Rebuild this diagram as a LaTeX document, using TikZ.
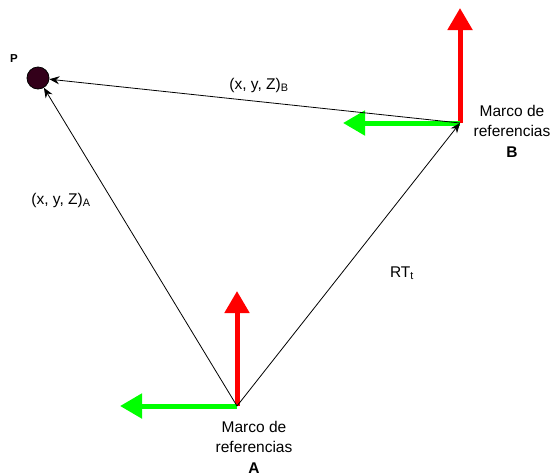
\documentclass[tikz,border=0pt]{standalone}
\usepackage{fontspec}
\setsansfont{Liberation Sans}
\usetikzlibrary{arrows.meta, calc}
\begin{document}
\begin{tikzpicture}[x=1pt, y=-1pt, line join=miter,
  font=\sffamily\fontsize{15.5}{20.5}\selectfont,
  axisarrow/.style={line width=5pt, -{Triangle[length=22pt,width=24pt]}},
  vecarrow/.style={line width=0.8pt, -{Stealth[length=10pt,width=8pt]}},
  framelabel/.style={align=center, inner sep=0pt},
  pointmark/.style={circle, draw=black, line width=0.8pt, fill=pfill, minimum size=22pt, inner sep=0pt}]
\definecolor{axred}{HTML}{FF0000}
\definecolor{axgreen}{HTML}{00FF00}
\definecolor{pfill}{HTML}{33001A}
\useasboundingbox (0,0) rectangle (553,475);
% ---- point P and the two frame origins ----
\node[pointmark] (P) at (38,78) {};
\node[font=\sffamily\bfseries\fontsize{11.5}{13}\selectfont, inner sep=0pt] (labP) at (14,59) {P};
\coordinate (A) at (237,406);
\coordinate (B) at (460,123);
% ---- frame axes (red = up, green = left) ----
\foreach \o in {A, B} {
  \coordinate (\o up) at ($(\o)+(0,-115)$);
  \coordinate (\o left) at ($(\o)+(-117,0)$);
  \draw[axisarrow, axred] (\o) -- (\o up);
  \draw[axisarrow, axgreen] (\o) -- (\o left);
}
% ---- position vectors ----
\draw[vecarrow] (A) -- (P);
\draw[vecarrow] (B) -- (P);
\draw[vecarrow] (A) -- (B);
% ---- labels ----
\node (labB) at (259,85) {(x, y, Z)\textsubscript{B}};
\node (labA) at (61,200) {(x, y, Z)\textsubscript{A}};
\node (labRT) at (402,273) {RT\textsubscript{t}};
\node[framelabel] (frameB) at (512,131) {Marco de\\referencias\\\textbf{B}};
\node[framelabel] (frameA) at (254,447) {Marco de\\referencias\\\textbf{A}};
\end{tikzpicture}
\end{document}
